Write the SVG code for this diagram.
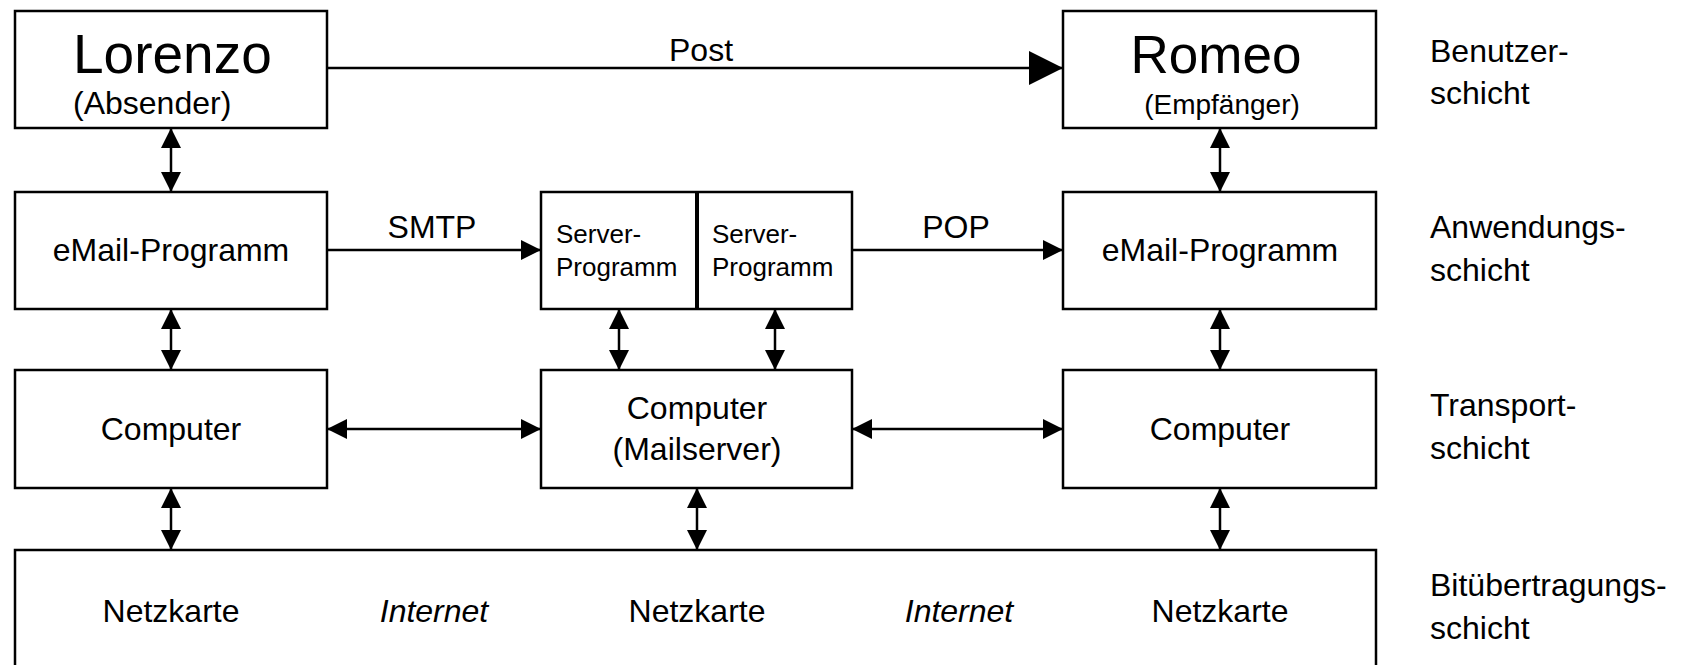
<svg xmlns="http://www.w3.org/2000/svg" width="1682" height="665" viewBox="0 0 1682 665">
<style>
.box{fill:#fff;stroke:#000;stroke-width:2.5}
.t{font-family:"Liberation Sans",Arial,sans-serif;font-size:32px;fill:#000}
.m{text-anchor:middle}
.big{font-size:55px}
.sm{font-size:26px}
.it{font-style:italic}
.c{stroke:#000;stroke-width:2.5;fill:none}
</style>
<defs>
<marker id="ah" markerUnits="userSpaceOnUse" viewBox="0 0 20 20" refX="20" refY="10" markerWidth="20" markerHeight="20" orient="auto-start-reverse">
<path d="M0,0 L20,10 L0,20 z" fill="#000"/>
</marker>
<marker id="big" markerUnits="userSpaceOnUse" viewBox="0 0 34 34" refX="34" refY="17" markerWidth="34" markerHeight="34" orient="auto">
<path d="M0,0 L34,17 L0,34 z" fill="#000"/>
</marker>
</defs>
<rect width="1682" height="665" fill="#fff"/>
<g id="connectors">
<line class="c" x1="327" y1="68" x2="1063" y2="68" marker-end="url(#big)"/>
<line class="c" x1="327" y1="250" x2="541" y2="250" marker-end="url(#ah)"/>
<line class="c" x1="852" y1="250" x2="1063" y2="250" marker-end="url(#ah)"/>
<line class="c" x1="327" y1="429" x2="541" y2="429" marker-start="url(#ah)" marker-end="url(#ah)"/>
<line class="c" x1="852" y1="429" x2="1063" y2="429" marker-start="url(#ah)" marker-end="url(#ah)"/>
<line class="c" x1="171" y1="128" x2="171" y2="192" marker-start="url(#ah)" marker-end="url(#ah)"/>
<line class="c" x1="171" y1="309" x2="171" y2="370" marker-start="url(#ah)" marker-end="url(#ah)"/>
<line class="c" x1="171" y1="488" x2="171" y2="550" marker-start="url(#ah)" marker-end="url(#ah)"/>
<line class="c" x1="1220" y1="128" x2="1220" y2="192" marker-start="url(#ah)" marker-end="url(#ah)"/>
<line class="c" x1="1220" y1="309" x2="1220" y2="370" marker-start="url(#ah)" marker-end="url(#ah)"/>
<line class="c" x1="1220" y1="488" x2="1220" y2="550" marker-start="url(#ah)" marker-end="url(#ah)"/>
<line class="c" x1="619" y1="309" x2="619" y2="370" marker-start="url(#ah)" marker-end="url(#ah)"/>
<line class="c" x1="775" y1="309" x2="775" y2="370" marker-start="url(#ah)" marker-end="url(#ah)"/>
<line class="c" x1="697" y1="488" x2="697" y2="550" marker-start="url(#ah)" marker-end="url(#ah)"/>
<text class="t m" x="701" y="61">Post</text>
<text class="t m" x="432" y="238">SMTP</text>
<text class="t m" x="956" y="238">POP</text>
</g>
<g id="lorenzo">
<rect class="box" x="15" y="11" width="312" height="117"/>
<text class="t big" x="73" y="73">Lorenzo</text>
<text class="t" x="73" y="114">(Absender)</text>
</g>
<g id="romeo">
<rect class="box" x="1063" y="11" width="313" height="117"/>
<text class="t big m" x="1216" y="73" style="font-size:53px">Romeo</text>
<text class="t m" x="1222" y="114" style="font-size:28px">(Empfänger)</text>
</g>
<g id="email-left">
<rect class="box" x="15" y="192" width="312" height="117"/>
<text class="t m" x="171" y="261">eMail-Programm</text>
</g>
<g id="server-programme">
<rect class="box" x="541" y="192" width="311" height="117"/>
<line x1="697" y1="192" x2="697" y2="309" stroke="#000" stroke-width="4"/>
<text class="t sm" x="556" y="243">Server-</text>
<text class="t sm" x="556" y="276">Programm</text>
<text class="t sm" x="712" y="243">Server-</text>
<text class="t sm" x="712" y="276">Programm</text>
</g>
<g id="email-right">
<rect class="box" x="1063" y="192" width="313" height="117"/>
<text class="t m" x="1220" y="261">eMail-Programm</text>
</g>
<g id="computer-left">
<rect class="box" x="15" y="370" width="312" height="118"/>
<text class="t m" x="171" y="440">Computer</text>
</g>
<g id="computer-mailserver">
<rect class="box" x="541" y="370" width="311" height="118"/>
<text class="t m" x="697" y="419">Computer</text>
<text class="t m" x="697" y="460">(Mailserver)</text>
</g>
<g id="computer-right">
<rect class="box" x="1063" y="370" width="313" height="118"/>
<text class="t m" x="1220" y="440">Computer</text>
</g>
<g id="netz">
<path class="box" d="M15,680 V550 H1376 V680"/>
<text class="t m" x="171" y="622">Netzkarte</text>
<text class="t m it" x="434" y="622">Internet</text>
<text class="t m" x="697" y="622">Netzkarte</text>
<text class="t m it" x="959" y="622">Internet</text>
<text class="t m" x="1220" y="622">Netzkarte</text>
</g>
<g id="layers">
<text class="t" x="1430" y="62">Benutzer-</text>
<text class="t" x="1430" y="104">schicht</text>
<text class="t" x="1430" y="238">Anwendungs-</text>
<text class="t" x="1430" y="281">schicht</text>
<text class="t" x="1430" y="416">Transport-</text>
<text class="t" x="1430" y="459">schicht</text>
<text class="t" x="1430" y="596">Bitübertragungs-</text>
<text class="t" x="1430" y="639">schicht</text>
</g>
</svg>
